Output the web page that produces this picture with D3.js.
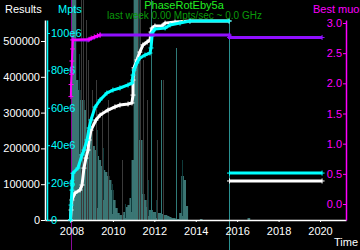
<!DOCTYPE html>
<html>
<head>
<meta charset="utf-8">
<script src="https://cdn.jsdelivr.net/npm/d3@7"></script>
<style>
  body { margin: 0; background: #000; }
  svg { display: block; }
</style>
</head>
<body>
<div id="chart"></div>
<script>
// results (white), Mpts (cyan): [year, value]
var results = [[2007.95,0],[2007.98,27900],[2008.02,55900],[2008.17,75400],[2008.41,83800],[2008.51,97800],
  [2008.6,145000],[2008.7,173000],[2008.8,195500],[2008.85,223500],[2008.94,251000],[2009.18,279000],
  [2009.38,293000],[2009.76,307000],[2010.1,316000],[2010.34,321000],[2010.73,324000],[2010.92,327000],
  [2010.97,349000],[2010.97,391000],[2011.02,425000],[2011.16,447000],[2011.3,469000],[2011.45,489000],
  [2011.65,497000],[2011.79,503000],[2011.84,525000],[2011.89,536000],[2012.03,542000],[2012.37,542000],
  [2012.52,550000],[2013.0,553000],[2013.72,556000],[2015.61,556000],[2015.62,null],
  [2015.63,109000],[2020.1,109000]];
var mpts = [[2007.95,0],[2007.98,8e6],[2008.02,16e6],[2008.07,25e6],[2008.31,27.8e6],[2008.51,34.8e6],
  [2008.6,37.4e6],[2008.75,42.8e6],[2008.85,49.2e6],[2008.94,53.5e6],[2009.14,60.4e6],[2009.38,64.2e6],
  [2009.71,67.9e6],[2010.0,69.5e6],[2010.34,70.6e6],[2010.73,72.2e6],[2010.92,73.3e6],[2010.97,77.5e6],
  [2011.02,80.2e6],[2011.16,84e6],[2011.3,86.6e6],[2011.55,88.2e6],[2011.79,89.3e6],[2011.84,92e6],
  [2011.89,98.4e6],[2011.89,100e6],[2012.03,102.1e6],[2012.52,102.7e6],[2012.76,104.3e6],[2013.24,105.3e6],
  [2013.72,106.4e6],[2015.61,106.4e6],[2015.62,null],[2015.63,25.1e6],[2020.1,25.1e6]];
// best muon: raw points (magenta) and running best (purple)
var muonPoints = [[2007.97,1.78],[2007.98,1.98],[2008.0,2.15],[2008.02,2.37],[2008.05,2.57],[2008.07,2.72],
  [2008.85,2.73],[2008.95,2.75],[2009.1,2.77],[2009.25,2.79],[2009.38,2.8]];
var muonBest = [[2008.07,2.72],[2008.8,2.72],[2009.38,2.8],[2015.62,2.8],[2015.63,2.76],[2020.1,2.76]];
// activity histogram, 0.1 year bins
var histYears = d3.range(2008, 2013.65, 0.1);
var histValues = [110,110,70,65,60,60,55,45,40,45,37,35,32,30,27,25,24,22,20,15,10,6,3.5,2.5,2.5,4,6.5,7.5,11,30,
  110,110,110,40,13,10,6.5,5,5,4,4,3.5,3.5,3,2.5,2.5,2,1.5,1,1,0.5,0.5,3.5,22,20,7,0];
var histExtra = [[2016.5,1],[2014.2,0.5]];
var darkLines = [[2008.36,83,33],[2008.8,53,16],[2009.25,45,6],[2009.5,36,10],[2009.75,28,0],[2009.95,18,3],
  [2010.6,8,1],[2010.85,15,4],[2011.25,110,40],[2011.45,28,5],[2011.7,20,2],[2012.1,10,1],[2013.35,30,2]];
var greyLines = [[2008.45,110],[2008.55,110],[2008.7,100],[2008.8,80],[2009.0,65],[2009.2,70],[2009.45,55],
  [2009.75,60],[2010.45,30],[2011.2,110],[2011.3,110],[2011.45,80],[2011.65,60],[2012.15,40],[2012.4,70]];
var lightLines = [[2011.84,110],[2012.32,70],[2013.05,86]];
var xTicks = [2008,2010,2012,2014,2016,2018,2020];
var resTicks = [0,100000,200000,300000,400000,500000];
var mptsTicks = [0,20e6,40e6,60e6,80e6,100e6];
var muonTicks = [0,0.5,1,1.5,2,2.5,3];
var markers = [2007.96, 2015.62];

var W = 360, H = 250, plotTop = 20, plotBottom = 220, plotLeft = 45, plotRight = 346;
var font = "Liberation Sans, Arial, sans-serif";

var svg = d3.select("#chart").append("svg")
    .attr("width", W)
    .attr("height", H)
    .style("background", "#000");

var x = d3.scaleLinear().domain([2008, 2020]).range([71.5, 320]);
var yRes = d3.scaleLinear().domain([0, 500000]).range([220, 41]);
var yMpts = d3.scaleLinear().domain([0, 100e6]).range([220, 33]);
var yMuon = d3.scaleLinear().domain([0, 3]).range([204, 23]);
var yHist = d3.scaleLinear().domain([0, 110]).range([220, 0]);

// histogram
var hist = svg.append("g");
hist.selectAll("rect.bin")
    .data(histYears.map(function (d, i) { return [d, histValues[i]]; }).concat(histExtra))
    .enter().append("rect")
    .attr("x", function (d) { return x(d[0]); })
    .attr("width", function (d) { return x(d[0] + 0.1) - x(d[0]) + 0.6; })
    .attr("y", function (d) { return yHist(d[1]); })
    .attr("height", function (d) { return yHist(0) - yHist(d[1]); })
    .attr("fill", "#3b7674");
hist.selectAll("line.dark")
    .data(darkLines).enter().append("line")
    .attr("x1", function (d) { return Math.round(x(d[0])) + 0.5; })
    .attr("x2", function (d) { return Math.round(x(d[0])) + 0.5; })
    .attr("y1", function (d) { return yHist(d[1]); })
    .attr("y2", function (d) { return yHist(d[2]); })
    .attr("stroke", "#0e3a3a");
hist.selectAll("line.grey")
    .data(greyLines).enter().append("line")
    .attr("x1", function (d) { return Math.round(x(d[0])) + 0.5; })
    .attr("x2", function (d) { return Math.round(x(d[0])) + 0.5; })
    .attr("y1", function (d) { return yHist(d[1]); })
    .attr("y2", yHist(0))
    .attr("stroke", "#3a3a3a");
hist.selectAll("line.light")
    .data(lightLines).enter().append("line")
    .attr("x1", function (d) { return Math.round(x(d[0])) + 0.5; })
    .attr("x2", function (d) { return Math.round(x(d[0])) + 0.5; })
    .attr("y1", function (d) { return yHist(d[1]); })
    .attr("y2", yHist(0))
    .attr("stroke", "#2f7a78");

// vertical event markers
svg.append("line")
    .attr("x1", Math.round(x(markers[0])) + 0.5).attr("x2", Math.round(x(markers[0])) + 0.5)
    .attr("y1", 0).attr("y2", H)
    .attr("stroke", "#8a0a9a");
svg.append("line")
    .attr("x1", Math.round(x(markers[1])) + 0.5).attr("x2", Math.round(x(markers[1])) + 0.5)
    .attr("y1", plotTop).attr("y2", H)
    .attr("stroke", "#2a9090");

function styleAxis(g, color) {
  g.select(".domain").attr("stroke", color).attr("stroke-width", 1.5);
  g.selectAll(".tick line").attr("stroke", color);
  g.selectAll(".tick text").attr("fill", color)
    .attr("font-family", font).attr("font-size", "11px");
}

// axes
var xAxisScale = x.copy().domain([x.invert(plotLeft), x.invert(plotRight)]).range([plotLeft, plotRight]);
svg.append("g")
    .attr("transform", "translate(0," + plotBottom + ")")
    .call(d3.axisBottom(xAxisScale).tickValues(xTicks).tickFormat(d3.format("d"))
      .tickSize(2).tickSizeOuter(0).tickPadding(5))
    .call(styleAxis, "#fff");

var resAxisScale = yRes.copy().domain([0, yRes.invert(plotTop)]).range([plotBottom, plotTop]);
svg.append("g")
    .attr("transform", "translate(" + plotLeft + ",0)")
    .call(d3.axisLeft(resAxisScale).tickValues(resTicks).tickFormat(d3.format("d"))
      .tickSize(4).tickSizeOuter(0).tickPadding(1))
    .call(styleAxis, "#fff");

var mptsAxisScale = yMpts.copy().domain([0, yMpts.invert(plotTop)]).range([plotBottom, plotTop]);
svg.append("g")
    .attr("transform", "translate(47,0)")
    .call(d3.axisRight(mptsAxisScale).tickValues(mptsTicks)
      .tickFormat(function (d) { return d === 0 ? "0" : (d / 1e6) + "e6"; })
      .tickSize(3).tickSizeOuter(0).tickPadding(1))
    .call(styleAxis, "#0ff");

var muonAxisScale = yMuon.copy().domain([yMuon.invert(plotBottom), yMuon.invert(plotTop)]).range([plotBottom, plotTop]);
svg.append("g")
    .attr("transform", "translate(" + plotRight + ",0)")
    .call(d3.axisLeft(muonAxisScale).tickValues(muonTicks).tickFormat(d3.format(".1f"))
      .tickSize(3).tickSizeOuter(0).tickPadding(1))
    .call(styleAxis, "#f0f");

// series
function drawSeries(data, yScale, color, width) {
  var line = d3.line()
      .defined(function (d) { return d[1] != null; })
      .x(function (d) { return x(d[0]); })
      .y(function (d) { return yScale(d[1]); });
  svg.append("path")
      .datum(data)
      .attr("d", line)
      .attr("fill", "none")
      .attr("stroke", color)
      .attr("stroke-width", width);
  svg.append("g").selectAll("path")
      .data(data.filter(function (d) { return d[1] != null; }))
      .enter().append("path")
      .attr("d", "M-2.5,0H2.5M0,-2.5V2.5")
      .attr("transform", function (d) { return "translate(" + x(d[0]) + "," + yScale(d[1]) + ")"; })
      .attr("stroke", color)
      .attr("stroke-width", 1);
}
drawSeries(results, yRes, "#fff", 3);
drawSeries(mpts, yMpts, "#0ff", 3);
drawSeries(muonBest, yMuon, "#9010ff", 3);
drawSeries(muonPoints, yMuon, "#ff00ff", 2);

// labels
function label(txt, px, py, color, size, anchor) {
  svg.append("text")
      .attr("x", px).attr("y", py)
      .attr("fill", color)
      .attr("font-family", font)
      .attr("font-size", size)
      .attr("text-anchor", anchor || "start")
      .text(txt);
}
label("Results", 5, 12.7, "#fff", "11px");
label("Mpts", 58, 12.5, "#0ff", "11px");
label("Best muon", 313, 13, "#f0f", "11px");
label("PhaseRotEby5a", 184, 9.3, "#22ee22", "11px", "middle");
label("last week 0.00 Mpts/sec ~ 0.0 GHz", 184.5, 19.3, "#0a9a0a", "10px", "middle");
label("Time", 334, 245.5, "#fff", "11px");
</script>
</body>
</html>
